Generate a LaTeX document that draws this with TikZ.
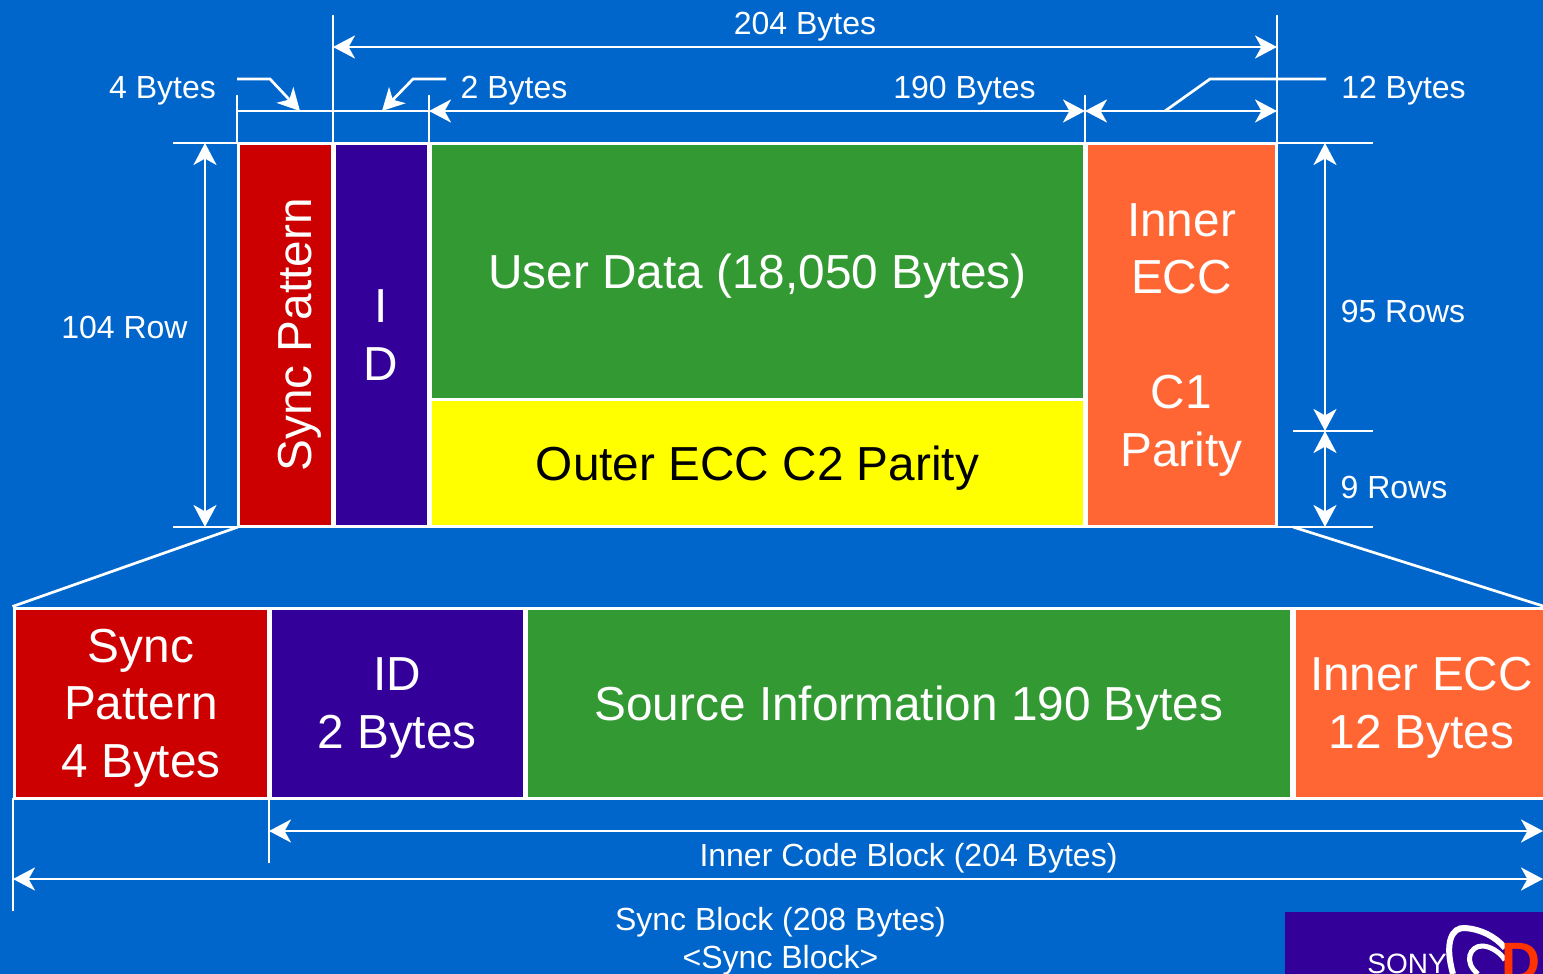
\documentclass[tikz,border=0pt]{standalone}
\usepackage{fontspec}
\setmainfont{Liberation Sans}
\usetikzlibrary{arrows.meta}

\definecolor{bgblue}{HTML}{0066CC}
\definecolor{syncred}{HTML}{CC0000}
\definecolor{idpurple}{HTML}{330099}
\definecolor{datagreen}{HTML}{339933}
\definecolor{parityyellow}{HTML}{FFFF00}
\definecolor{eccorange}{HTML}{FF6633}
\definecolor{logored}{HTML}{FF3300}

\begin{document}
\begin{tikzpicture}[x=0.5pt,y=-0.5pt,>={Stealth[length=11pt,width=11.5pt,inset=3.2pt]}]
	\tikzstyle{block}=[draw=white,line width=1.5pt,inner sep=0pt,align=center,text=white,text depth=-2.5pt,font=\fontsize{23.87}{28.75}\selectfont]
	\tikzstyle{lab}=[text=white,inner sep=0pt,align=center,font=\fontsize{16}{19}\selectfont]
	\tikzstyle{rule}=[draw=white,line width=1.35pt]
	\tikzstyle{every edge}=[rule,<->]

	\path[fill=bgblue,use as bounding box] (0,0) rectangle (1543,974);
	\clip (0,0) rectangle (1543,974);

	% upper frame
	\node[block,fill=syncred,minimum width=47pt,minimum height=191pt] (sync) at (285,335) {\hspace*{15pt}\rotatebox{90}{Sync Pattern}};
	\node[block,fill=idpurple,minimum width=47pt,minimum height=191pt] (id) at (381,335) {I\\D};
	\node[block,fill=datagreen,minimum width=327pt,minimum height=127.5pt] (user) at (757.5,271.5) {User Data (18,050 Bytes)};
	\node[block,fill=parityyellow,text=black,minimum width=327pt,minimum height=63.5pt] (outer) at (757.5,463) {Outer ECC C2 Parity};
	\node[block,fill=eccorange,minimum width=95pt,minimum height=191pt] (ecc) at (1181.5,335) {Inner\\ECC\\ \\C1\\Parity};

	% sync block
	\node[block,fill=syncred,minimum width=127pt,minimum height=95pt] (ssync) at (141,703) {Sync\\Pattern\\4 Bytes};
	\node[block,fill=idpurple,minimum width=127pt,minimum height=95pt] (sid) at (397,703) {ID\\2 Bytes};
	\node[block,fill=datagreen,minimum width=382.5pt,minimum height=95pt] (ssource) at (909,703) {Source Information 190 Bytes};
	\node[block,fill=eccorange,minimum width=127pt,minimum height=95pt] (secc) at (1421.5,703) {Inner ECC\\12 Bytes};

	% labels
	\node[lab] (l204) at (805,27) {204 Bytes};
	\node[lab] (l4) at (162.5,91) {4 Bytes};
	\node[lab] (l2) at (514,91) {2 Bytes};
	\node[lab] (l190) at (964.5,91) {190 Bytes};
	\node[lab] (l12) at (1403.5,91) {12 Bytes};
	\node[lab] (l104) at (124.5,327) {104 Row};
	\node[lab] (l95) at (1403,311) {95 Rows};
	\node[lab] (l9) at (1394,487) {9 Rows};
	\node[lab] (linner) at (908.5,858) {Inner Code Block (204 Bytes)};
	\node[lab] (lsync) at (780.5,922) {Sync Block (208 Bytes)};
	\node[lab] (lframe) at (780.5,960) {<Sync Block>};

	% extension lines
	\coordinate (a0) at (333,15);
	\coordinate (a1) at (1277,15);
	\coordinate (a2) at (333,47);
	\coordinate (a3) at (1277,47);
	\coordinate (b0) at (237,95);
	\coordinate (b1) at (429,95);
	\coordinate (b2) at (1085,95);
	\coordinate (c0) at (237,111);
	\coordinate (c1) at (333,111);
	\coordinate (c2) at (429,111);
	\coordinate (c3) at (1085,111);
	\coordinate (c4) at (1277,111);
	\coordinate (d0) at (237,143);
	\coordinate (d1) at (333,143);
	\coordinate (d2) at (429,143);
	\coordinate (d3) at (1085,143);
	\coordinate (d4) at (1277,143);
	\coordinate (e0) at (173,143);
	\coordinate (e1) at (173,527);
	\coordinate (e2) at (238,527);
	\coordinate (f0) at (1373,143);
	\coordinate (f1) at (1293,431);
	\coordinate (f2) at (1373,431);
	\coordinate (f3) at (1277,527);
	\coordinate (f4) at (1373,527);
	\coordinate (g0) at (205,143);
	\coordinate (g1) at (205,527);
	\coordinate (h0) at (1325,143);
	\coordinate (h1) at (1325,431);
	\coordinate (h2) at (1325,527);

	\draw[rule] (a0) -- (d1);
	\draw[rule] (a1) -- (d4);
	\draw[rule] (b0) -- (d0);
	\draw[rule] (b1) -- (d2);
	\draw[rule] (b2) -- (d3);
	\draw[rule] (c0) -- (c2);
	\draw[rule] (e0) -- (e2 |- e0);
	\draw[rule] (e1) -- (e2);
	\draw[rule] (d4) -- (f0);
	\draw[rule] (f1) -- (f2);
	\draw[rule] (f3) -- (f4);

	% dimensions
	\draw (a2) edge (a3);
	\draw (c2) edge (c3);
	\draw (c3) edge (c4);
	\draw (g0) edge (g1);
	\draw (h0) edge (h1);
	\draw (h1) edge (h2);

	% leaders
	\coordinate (p0) at (237,79);
	\coordinate (p1) at (270,79);
	\coordinate (p2) at (300,111);
	\coordinate (q0) at (446,79);
	\coordinate (q1) at (413,79);
	\coordinate (q2) at (382,111);
	\coordinate (r0) at (1326,79);
	\coordinate (r1) at (1210,79);
	\coordinate (r2) at (1165,111);
	\draw[rule,->] (p0) -- (p1) -- (p2);
	\draw[rule,->] (q0) -- (q1) -- (q2);
	\draw[rule] (r0) -- (r1) -- (r2);

	% zoom lines
	\coordinate (s0) at (1293,527);
	\draw[rule] (e2) -- (ssync.north west);
	\draw[rule] (s0) -- (1543,606);

	% lower dimensions
	\coordinate (t0) at (13,798);
	\coordinate (t1) at (13,911);
	\coordinate (t2) at (269,798);
	\coordinate (t3) at (269,863);
	\coordinate (u0) at (269,831);
	\coordinate (u1) at (1543,831);
	\coordinate (v0) at (13,879);
	\coordinate (v1) at (1543,879);
	\draw[rule] (t0) -- (t1);
	\draw[rule] (t2) -- (t3);
	\draw (u0) edge (u1);
	\draw (v0) edge (v1);

	% logo
	\fill[idpurple] (1285,912) rectangle (1543,974);
	\node[text=white,inner sep=0pt,font=\fontsize{14}{14}\selectfont] (sony) at (1407,964) {SONY};
	\draw[white,line width=3pt] (1453,974) .. controls (1444,942) and (1452,927) .. (1465,928) .. controls (1480,929) and (1495,936) .. (1505,948);
	\draw[white,line width=2.5pt] (1478,974) .. controls (1463,962) and (1470,946) .. (1482,946) .. controls (1490,946) and (1500,952) .. (1505,960);
	\node[text=logored,inner sep=0pt,anchor=west,font=\bfseries\fontsize{27}{27}\selectfont] (dadc) at (1501,962) {DA};
\end{tikzpicture}
\end{document}
